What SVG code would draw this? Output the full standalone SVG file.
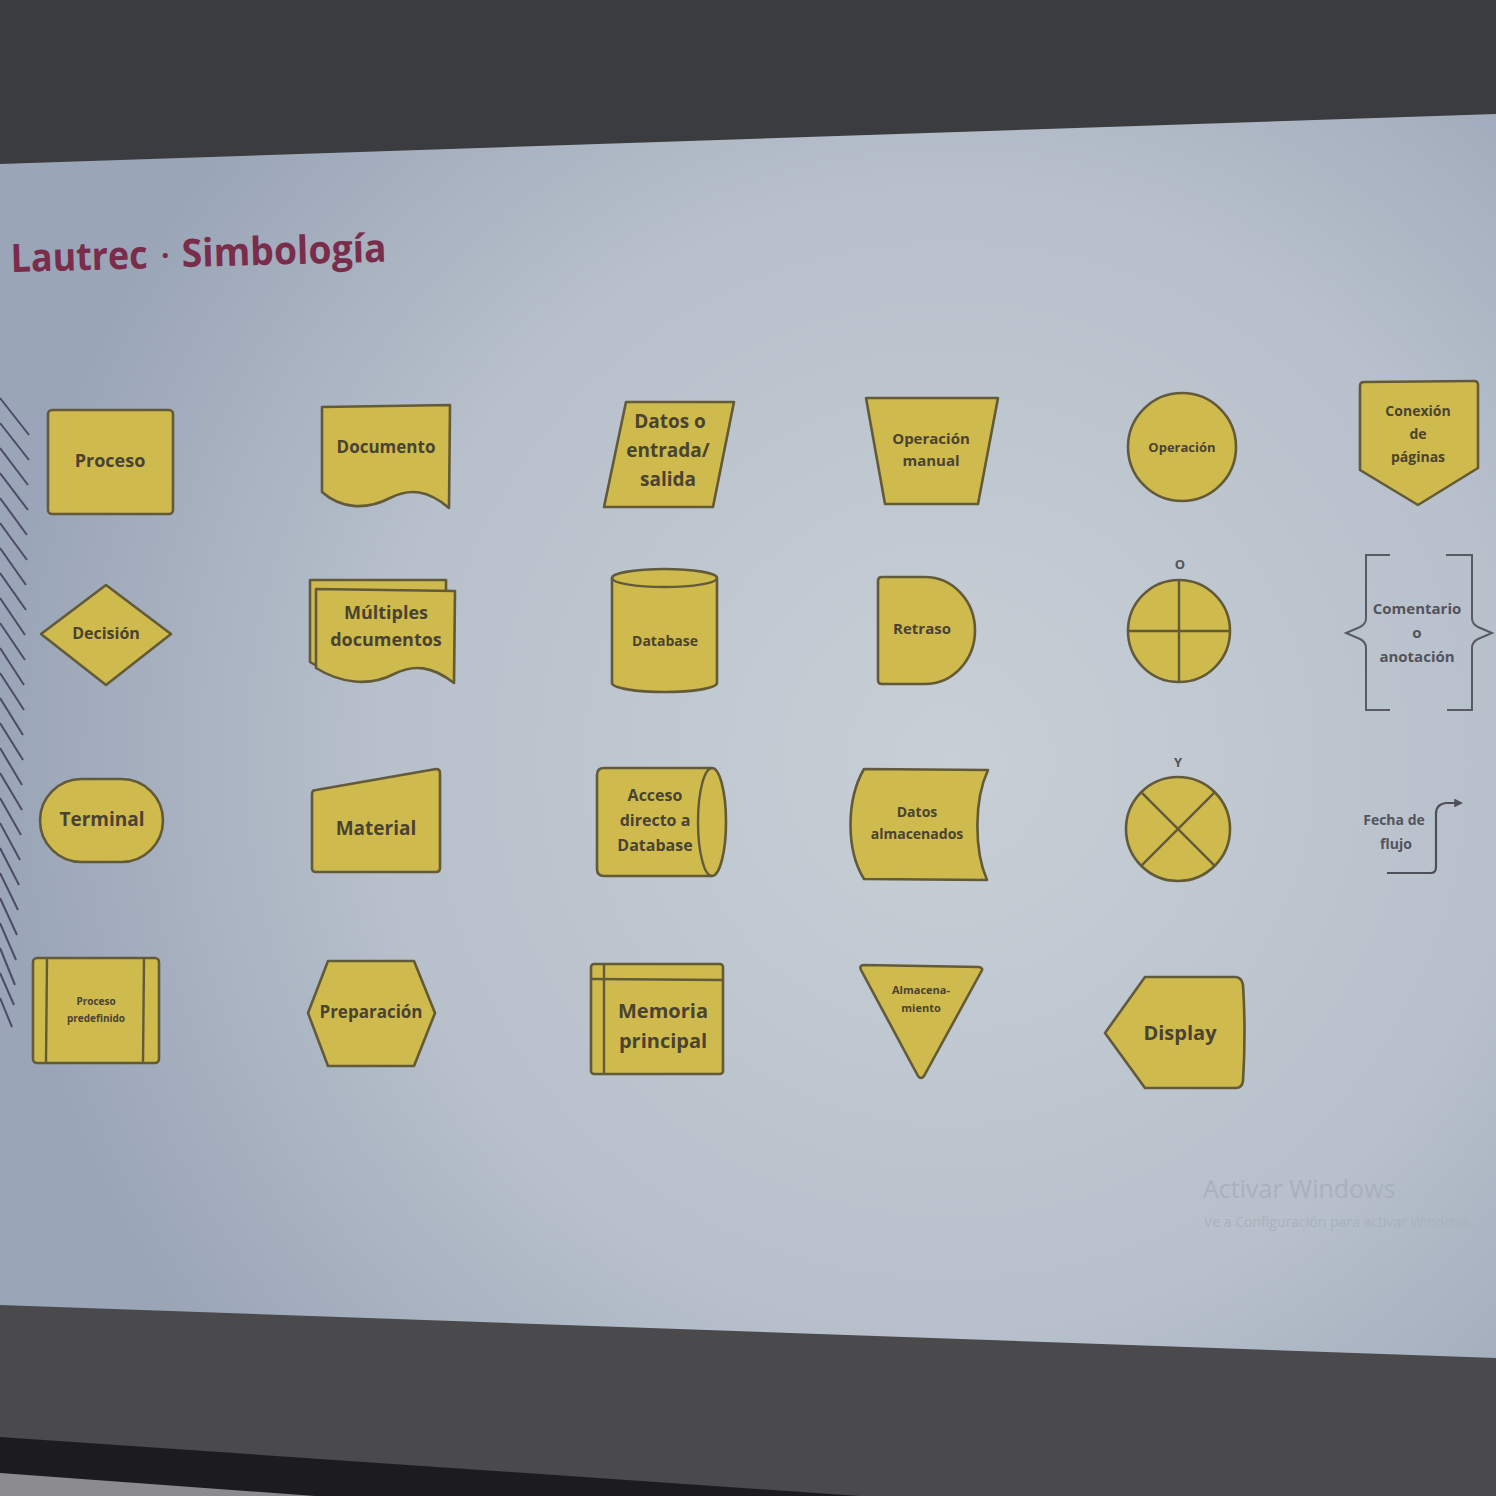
<svg xmlns="http://www.w3.org/2000/svg" width="1496" height="1496" viewBox="0 0 1496 1496">
<defs>
<radialGradient id="slideG" cx="950" cy="760" r="950" gradientUnits="userSpaceOnUse">
<stop offset="0" stop-color="#c8cfd6"/>
<stop offset="0.6" stop-color="#b7c0cb"/>
<stop offset="1" stop-color="#9aa5b7"/>
</radialGradient>
<marker id="arr" viewBox="0 0 10 10" refX="2" refY="5" markerWidth="4" markerHeight="4" orient="auto">
<path d="M0,0 L10,5 L0,10 Z" fill="#4f4f58"/>
</marker>
<style>
.s{fill:#cfba4e;stroke:#625a38;stroke-width:2.6;stroke-linejoin:round}
.l{fill:none;stroke:#625a38;stroke-width:2.4}
.t{font-family:"Open Sans","Liberation Sans",sans-serif;font-weight:700;fill:#4a4331;text-anchor:middle}
.g{font-family:"Open Sans","Liberation Sans",sans-serif;font-weight:700;fill:#53535c;text-anchor:middle}
.h{stroke:#4c4c66;stroke-width:2}
.b{fill:none;stroke:#5a5a62;stroke-width:2}
</style>
</defs>
<rect x="0" y="0" width="1496" height="1496" fill="#3b3c40"/>
<polygon points="0,1300 1496,1352 1496,1496 0,1496" fill="#4a4a4c"/>
<polygon points="0,1437 860,1496 0,1496" fill="#1c1c1e"/>
<polygon points="0,1473 315,1496 0,1496" fill="#8c8c90"/>
<polygon points="0,164 1496,114 1496,1358 0,1305" fill="url(#slideG)"/>

<g id="title">
<text x="11" y="272" font-family="'Open Sans','Liberation Sans',sans-serif" font-weight="700" font-size="39" fill="#7a2c4b" textLength="137" lengthAdjust="spacingAndGlyphs" transform="rotate(-1.5 11 272)">Lautrec</text>
<text x="161" y="266" font-family="'Open Sans','Liberation Sans',sans-serif" font-weight="700" font-size="30" fill="#7a2c4b">·</text>
<text x="182" y="267" font-family="'Open Sans','Liberation Sans',sans-serif" font-weight="700" font-size="39" fill="#7a2c4b" textLength="205" lengthAdjust="spacingAndGlyphs" transform="rotate(-1.5 182 267)">Simbología</text>
</g>

<g id="hatch">
<line class="h" x1="0" y1="398" x2="29" y2="435"/>
<line class="h" x1="0" y1="423" x2="29" y2="460"/>
<line class="h" x1="0" y1="448" x2="28" y2="485"/>
<line class="h" x1="0" y1="473" x2="28" y2="510"/>
<line class="h" x1="0" y1="498" x2="27" y2="535"/>
<line class="h" x1="0" y1="523" x2="27" y2="560"/>
<line class="h" x1="0" y1="548" x2="26" y2="585"/>
<line class="h" x1="0" y1="573" x2="26" y2="610"/>
<line class="h" x1="0" y1="598" x2="25" y2="635"/>
<line class="h" x1="0" y1="623" x2="25" y2="660"/>
<line class="h" x1="0" y1="648" x2="24" y2="685"/>
<line class="h" x1="0" y1="673" x2="24" y2="710"/>
<line class="h" x1="0" y1="698" x2="23" y2="735"/>
<line class="h" x1="0" y1="723" x2="23" y2="760"/>
<line class="h" x1="0" y1="748" x2="22" y2="785"/>
<line class="h" x1="0" y1="773" x2="22" y2="810"/>
<line class="h" x1="0" y1="798" x2="21" y2="835"/>
<line class="h" x1="0" y1="823" x2="20" y2="860"/>
<line class="h" x1="0" y1="848" x2="19" y2="885"/>
<line class="h" x1="0" y1="873" x2="18" y2="910"/>
<line class="h" x1="0" y1="898" x2="17" y2="935"/>
<line class="h" x1="0" y1="923" x2="16" y2="960"/>
<line class="h" x1="0" y1="948" x2="15" y2="985"/>
<line class="h" x1="0" y1="973" x2="14" y2="1005"/>
<line class="h" x1="0" y1="998" x2="12" y2="1027"/>
</g>

<!-- Row 1 -->
<g id="proceso">
<rect class="s" x="48" y="410" width="125" height="104" rx="4"/>
<text class="t" x="110" y="467" font-size="18">Proceso</text>
</g>
<g id="documento">
<path class="s" d="M322,407 L450,405 L449,508 C428,490 410,488 390,498 C365,511 340,508 322,492 Z"/>
<text class="t" x="386" y="453" font-size="17">Documento</text>
</g>
<g id="datos-entrada-salida">
<path class="s" d="M626,402 L734,402 L713,507 L604,507 Z"/>
<text class="t" x="670" y="428" font-size="19">Datos o</text>
<text class="t" x="668" y="457" font-size="19">entrada/</text>
<text class="t" x="668" y="486" font-size="19">salida</text>
</g>
<g id="operacion-manual">
<path class="s" d="M866,398 L998,398 L978,504 L885,504 Z"/>
<text class="t" x="931" y="444" font-size="15">Operación</text>
<text class="t" x="931" y="466" font-size="15">manual</text>
</g>
<g id="operacion">
<circle class="s" cx="1182" cy="447" r="54"/>
<text class="t" x="1182" y="452" font-size="13">Operación</text>
</g>
<g id="conexion-paginas">
<path class="s" d="M1364,382 L1474,381 Q1478,381 1478,385 L1478,468 L1418,505 L1360,470 L1360,386 Q1360,382 1364,382 Z"/>
<text class="t" x="1418" y="416" font-size="14">Conexión</text>
<text class="t" x="1418" y="439" font-size="14">de</text>
<text class="t" x="1418" y="462" font-size="14">páginas</text>
</g>

<!-- Row 2 -->
<g id="decision">
<path class="s" d="M106,585 L171,634 L106,685 L41,634 Z"/>
<text class="t" x="106" y="639" font-size="16">Decisión</text>
</g>
<g id="multiples-documentos">
<path class="s" d="M310,580 L446,580 L446,675 C420,660 400,660 380,670 C355,680 330,675 310,662 Z"/>
<path class="s" d="M316,589 L455,591 L454,683 C432,666 414,664 394,674 C369,687 340,683 316,668 Z"/>
<text class="t" x="386" y="619" font-size="18">Múltiples</text>
<text class="t" x="386" y="646" font-size="18">documentos</text>
</g>
<g id="database">
<path class="s" d="M612,578 A52.5,9 0 0 1 717,578 L717,683 A52.5,9 0 0 1 612,683 Z"/>
<path class="l" d="M612,578 A52.5,9 0 0 0 717,578"/>
<text class="t" x="665" y="646" font-size="14">Database</text>
</g>
<g id="retraso">
<path class="s" d="M882,577 L925,577 A50,53.5 0 0 1 925,684 L882,684 Q878,684 878,680 L878,581 Q878,577 882,577 Z"/>
<text class="t" x="922" y="634" font-size="15">Retraso</text>
</g>
<g id="o-conector">
<circle class="s" cx="1179" cy="631" r="51"/>
<line class="l" x1="1128" y1="631" x2="1230" y2="631"/>
<line class="l" x1="1179" y1="580" x2="1179" y2="682"/>
<text class="g" x="1180" y="569" font-size="13">O</text>
</g>
<g id="comentario">
<path class="b" d="M1390,555 L1366,555 L1366,618 Q1366,624 1360,627 L1346,633 L1360,639 Q1366,642 1366,648 L1366,710 L1390,710"/>
<path class="b" d="M1446,555 L1472,555 L1472,618 Q1472,624 1478,627 L1492,633 L1478,639 Q1472,642 1472,648 L1472,710 L1447,710"/>
<text class="g" x="1417" y="614" font-size="15">Comentario</text>
<text class="g" x="1417" y="638" font-size="15">o</text>
<text class="g" x="1417" y="662" font-size="15">anotación</text>
</g>

<!-- Row 3 -->
<g id="terminal">
<rect class="s" x="40" y="779" width="123" height="83" rx="41.5"/>
<text class="t" x="102" y="826" font-size="19">Terminal</text>
</g>
<g id="material">
<path class="s" d="M316,790 L436,769 Q440,769 440,773 L440,868 Q440,872 436,872 L316,872 Q312,872 312,868 L312,794 Q312,790 316,790 Z"/>
<text class="t" x="376" y="835" font-size="19">Material</text>
</g>
<g id="acceso-directo">
<path class="s" d="M604,768 L712,768 A14,54 0 0 1 712,876 L604,876 Q597,876 597,869 L597,775 Q597,768 604,768 Z"/>
<path class="l" d="M712,768 A14,54 0 0 0 712,876"/>
<text class="t" x="655" y="801" font-size="16">Acceso</text>
<text class="t" x="655" y="826" font-size="16">directo a</text>
<text class="t" x="655" y="851" font-size="16">Database</text>
</g>
<g id="datos-almacenados">
<path class="s" d="M864,769 L988,770 C974,800 974,850 987,880 L864,879 C846,850 846,800 864,769 Z"/>
<text class="t" x="917" y="817" font-size="14">Datos</text>
<text class="t" x="917" y="839" font-size="14">almacenados</text>
</g>
<g id="y-conector">
<circle class="s" cx="1178" cy="829" r="52"/>
<line class="l" x1="1141.2" y1="792.2" x2="1214.8" y2="865.8"/>
<line class="l" x1="1214.8" y1="792.2" x2="1141.2" y2="865.8"/>
<text class="g" x="1178" y="767" font-size="13">Y</text>
</g>
<g id="fecha-flujo">
<text class="g" x="1394" y="825" font-size="14">Fecha de</text>
<text class="g" x="1396" y="849" font-size="14">flujo</text>
</g>

<!-- Row 4 -->
<g id="proceso-predefinido">
<rect class="s" x="33" y="958" width="126" height="105" rx="4"/>
<line class="l" x1="47" y1="959" x2="46" y2="1062"/>
<line class="l" x1="144" y1="959" x2="143" y2="1062"/>
<text class="t" x="96" y="1005" font-size="10">Proceso</text>
<text class="t" x="96" y="1022" font-size="10">predefinido</text>
</g>
<g id="preparacion">
<path class="s" d="M328,961 L414,961 L435,1013 L414,1066 L328,1066 L308,1013 Z"/>
<text class="t" x="371" y="1018" font-size="17">Preparación</text>
</g>
<g id="memoria-principal">
<rect class="s" x="591" y="964" width="132" height="110" rx="3"/>
<line class="l" x1="592" y1="979" x2="722" y2="980"/>
<line class="l" x1="604" y1="965" x2="604" y2="1073"/>
<text class="t" x="663" y="1018" font-size="20">Memoria</text>
<text class="t" x="663" y="1048" font-size="20">principal</text>
</g>
<g id="almacenamiento">
<path class="s" d="M864,965 L979,967 Q984,968 981,972 L924,1076 Q921,1080 918,1076 L861,970 Q859,965 864,965 Z"/>
<text class="t" x="921" y="994" font-size="11">Almacena-</text>
<text class="t" x="921" y="1012" font-size="11">miento</text>
</g>
<g id="display">
<path class="s" d="M1145,977 L1236,977 Q1242,978 1243,985 Q1246,1032 1243,1081 Q1242,1088 1236,1088 L1145,1088 L1105,1033 Z"/>
<text class="t" x="1180" y="1040" font-size="20">Display</text>
</g>

<g id="connectors">
<path fill="none" stroke="#4f4f58" stroke-width="2.2" d="M1387,873 L1431,873 Q1436,873 1436,867 L1436,814 Q1436,804 1446,803 L1456,803" marker-end="url(#arr)"/>
</g>

<g id="watermark" font-family="'Open Sans','Liberation Sans',sans-serif" fill="#a9b1bd">
<text x="1203" y="1198" font-size="25">Activar Windows</text>
<text x="1204" y="1227" font-size="14">Ve a Configuración para activar Windows.</text>
</g>
</svg>
